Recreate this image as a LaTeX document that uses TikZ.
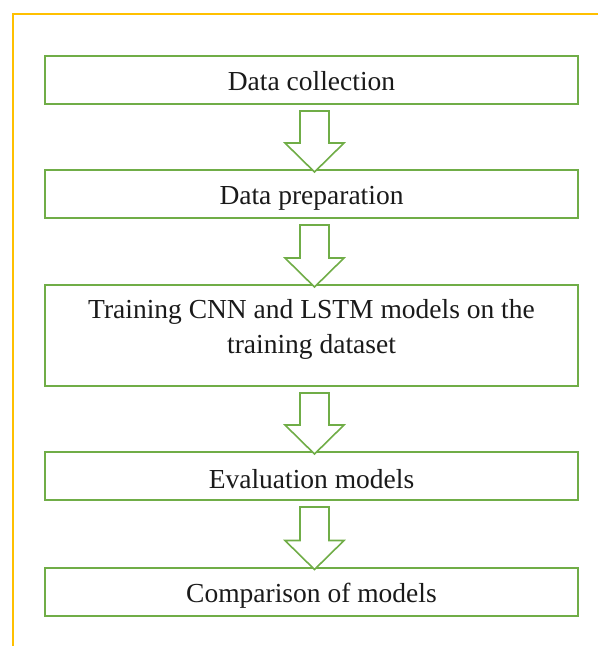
\documentclass[tikz,border=0pt]{standalone}
\usepackage{fontspec}
\setmainfont{Liberation Serif}
\usetikzlibrary{calc}
\definecolor{boxgreen}{HTML}{70AD47}
\definecolor{framegold}{HTML}{FFC000}
\definecolor{txt}{HTML}{1A1A1A}
\tikzset{
  stepbox/.style={draw=boxgreen, line width=2pt, minimum width=533pt, inner sep=0pt, fill=white},
  steptext/.style={anchor=base, text=txt, font=\fontsize{27.5}{35}\selectfont, align=center, inner sep=0pt},
  blockarrow/.style={draw=boxgreen, line width=1.6pt, line join=miter, fill=white}
}
\begin{document}
\begin{tikzpicture}[x=1pt,y=-1pt]
\useasboundingbox (0,0) rectangle (598,646);
% frame
\draw[framegold, line width=2pt] (598,14) -- (13,14) -- (13,646);
% boxes
\node[stepbox, minimum height=48pt]  (b1) at (311.5,80) {};
\node[stepbox, minimum height=48pt]  (b2) at (311.5,194) {};
\node[stepbox, minimum height=101pt] (b3) at (311.5,335.5) {};
\node[stepbox, minimum height=48pt]  (b4) at (311.5,476) {};
\node[stepbox, minimum height=48pt]  (b5) at (311.5,591.5) {};
% texts
\node[steptext] (t1) at ($(b1.center)+(0,10.5)$) {Data collection};
\node[steptext] (t2) at ($(b2.center)+(0,10)$) {Data preparation};
\node[steptext] (t3) at ($(b3.center)+(0,17.5)$) {Training CNN and LSTM models on the\\training dataset};
\node[steptext] (t4) at ($(b4.center)+(0,12)$) {Evaluation models};
\node[steptext] (t5) at ($(b5.center)+(0,10.5)$) {Comparison of models};
% block arrows
\foreach \a/\b in {b1/b2,b2/b3,b3/b4,b4/b5}{
  \coordinate (top) at ($(\a.south)+(3,6)$);
  \coordinate (tip) at ($(\b.north)+(3,3)$);
  \path let \p1=(top), \p2=(tip) in
    [blockarrow] (\x1-14.5pt,\y1) -- (\x1+14.5pt,\y1) -- (\x1+14.5pt,\y2+29pt) -- (\x1+29.5pt,\y2+29pt)
      -- (tip) -- (\x1-29.5pt,\y2+29pt) -- (\x1-14.5pt,\y2+29pt) -- cycle;
}
\end{tikzpicture}
\end{document}
